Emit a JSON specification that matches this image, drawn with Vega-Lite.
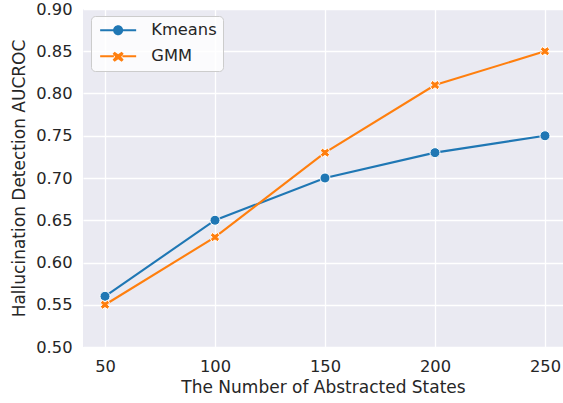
{
  "$schema": "https://vega.github.io/schema/vega-lite/v6.json",
  "width": 480,
  "height": 338,
  "autosize": {"type": "none"},
  "padding": {"left": 83, "top": 9, "right": 0, "bottom": 56},
  "background": "white",
  "config": {
    "font": "DejaVu Sans",
    "view": {"fill": "#EAEAF2", "stroke": null},
    "axis": {
      "domain": false,
      "ticks": false,
      "grid": true,
      "gridColor": "white",
      "gridWidth": 1.3,
      "labelFont": "DejaVu Sans",
      "labelFontSize": 16.3,
      "labelColor": "#262626",
      "labelPadding": 11,
      "titleFont": "DejaVu Sans",
      "titleFontSize": 17,
      "titleFontWeight": "normal",
      "titleColor": "#262626"
    }
  },
  "data": {
    "values": [
      {"states": 50, "auc": 0.56, "method": "Kmeans"},
      {"states": 100, "auc": 0.65, "method": "Kmeans"},
      {"states": 150, "auc": 0.70, "method": "Kmeans"},
      {"states": 200, "auc": 0.73, "method": "Kmeans"},
      {"states": 250, "auc": 0.75, "method": "Kmeans"},
      {"states": 50, "auc": 0.55, "method": "GMM"},
      {"states": 100, "auc": 0.63, "method": "GMM"},
      {"states": 150, "auc": 0.73, "method": "GMM"},
      {"states": 200, "auc": 0.81, "method": "GMM"},
      {"states": 250, "auc": 0.85, "method": "GMM"}
    ]
  },
  "encoding": {
    "x": {
      "field": "states",
      "type": "quantitative",
      "scale": {"domain": [40, 258.2], "nice": false, "zero": false},
      "axis": {"values": [50, 100, 150, 200, 250], "title": "The Number of Abstracted States", "titlePadding": 5}
    },
    "y": {
      "field": "auc",
      "type": "quantitative",
      "scale": {"domain": [0.5, 0.9], "nice": false, "zero": false},
      "axis": {"values": [0.5, 0.55, 0.6, 0.65, 0.7, 0.75, 0.8, 0.85, 0.9], "format": ".2f", "title": "Hallucination Detection AUCROC", "titlePadding": 7}
    }
  },
  "layer": [
    {
      "mark": {"type": "point", "filled": true, "opacity": 0, "strokeWidth": 0, "size": 100},
      "encoding": {
        "color": {
          "field": "method",
          "type": "nominal",
          "scale": {"domain": ["Kmeans", "GMM"], "range": ["#1f77b4", "#ff7f0e"]},
          "legend": {
            "title": null,
            "orient": "none",
            "legendX": 8,
            "legendY": 7,
            "fillColor": "rgba(255,255,255,0.8)",
            "strokeColor": "#cccccc",
            "cornerRadius": 4,
            "padding": 6,
            "rowPadding": 9,
            "symbolSize": 100,
            "symbolOpacity": 1,
            "symbolStrokeWidth": 0,
            "labelOffset": 38,
            "labelFont": "DejaVu Sans",
            "labelFontSize": 16.3,
            "labelColor": "#262626"
          }
        },
        "shape": {
          "field": "method",
          "type": "nominal",
          "scale": {"domain": ["Kmeans", "GMM"], "range": [
            "M-1,-0.2H1.65V0.2H-1Z M3.55,-0.2H6.2V0.2H3.55Z M1.6,0A1,1 0 1,1 3.6,0A1,1 0 1,1 1.6,0Z",
            "M-1,-0.2H1.75V0.2H-1Z M3.45,-0.2H6.2V0.2H3.45Z M1.5,-0.5L1.9,-0.9L2.6,-0.4L3.3,-0.9L3.7,-0.5L3.2,0.1L3.7,0.7L3.3,1.1L2.6,0.6L1.9,1.1L1.5,0.7L2.0,0.1Z"
          ]},
          "legend": {
            "title": null,
            "orient": "none",
            "legendX": 8,
            "legendY": 7,
            "fillColor": "rgba(255,255,255,0.8)",
            "strokeColor": "#cccccc",
            "cornerRadius": 4,
            "padding": 6,
            "rowPadding": 9,
            "symbolSize": 100,
            "symbolOpacity": 1,
            "symbolStrokeWidth": 0,
            "labelOffset": 38,
            "labelFont": "DejaVu Sans",
            "labelFontSize": 16.3,
            "labelColor": "#262626"
          }
        }
      }
    },
    {
      "mark": {"type": "line", "strokeWidth": 2.1},
      "encoding": {
        "color": {"field": "method", "type": "nominal", "legend": null}
      }
    },
    {
      "transform": [{"filter": "datum.method === 'Kmeans'"}],
      "mark": {"type": "point", "filled": true, "shape": "circle", "size": 100, "stroke": "white", "strokeWidth": 1, "opacity": 1},
      "encoding": {
        "color": {"field": "method", "type": "nominal", "legend": null}
      }
    },
    {
      "transform": [{"filter": "datum.method === 'GMM'"}],
      "mark": {"type": "point", "filled": true, "shape": "M-1,-0.4L-0.6,-1L0,-0.6L0.6,-1L1,-0.4L0.6,0L1,0.4L0.6,1L0,0.6L-0.6,1L-1,0.4L-0.6,0Z", "size": 85, "stroke": "white", "strokeWidth": 1, "opacity": 1},
      "encoding": {
        "color": {"field": "method", "type": "nominal", "legend": null}
      }
    }
  ]
}
